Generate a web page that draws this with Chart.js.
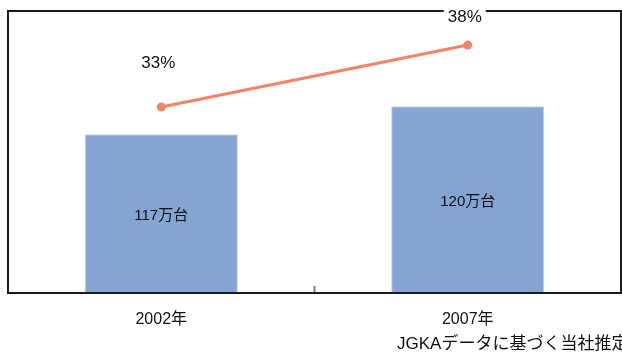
<!DOCTYPE html>
<html>
<head>
<meta charset="utf-8">
<script src="https://cdn.jsdelivr.net/npm/chart.js@4/dist/chart.umd.min.js"></script>
<style>
  html, body { margin: 0; padding: 0; background: #ffffff; }
  #wrap { width: 622px; height: 352px; }
</style>
</head>
<body>
<div id="wrap"><canvas id="c" width="622" height="352"></canvas></div>
<script>
// Categories and series
const years = ['2002年', '2007年'];
const units = [117, 120];            // 万台
const unitLabels = ['117万台', '120万台'];
const shares = [33, 38];             // %
const shareLabels = ['33%', '38%'];
const sourceNote = 'JGKAデータに基づく当社推定';

const FONT = "'Liberation Sans', Arial, 'Noto Sans CJK JP', sans-serif";

// Frame around the plot area, the inner category tick, value labels and the note
const decorations = {
  id: 'decorations',
  afterDatasetsDraw(chart, args, opts) {
    const { ctx, chartArea: a } = chart;
    const xs = chart.scales.x;
    const yu = chart.scales.yUnits;
    ctx.save();

    // inner tick between the two categories
    const mid = (xs.getPixelForValue(0) + xs.getPixelForValue(1)) / 2;
    ctx.strokeStyle = '#7a7a7a';
    ctx.lineWidth = 2;
    ctx.beginPath();
    ctx.moveTo(mid, a.bottom - 7);
    ctx.lineTo(mid, a.bottom);
    ctx.stroke();

    // plot frame
    ctx.strokeStyle = '#1c1c1c';
    ctx.lineWidth = 2;
    ctx.strokeRect(a.left, a.top, a.right - a.left, a.bottom - a.top);

    // bar value labels, centred in each bar
    ctx.fillStyle = '#111111';
    ctx.textAlign = 'center';
    ctx.textBaseline = 'middle';
    ctx.font = '15px ' + FONT;
    units.forEach((v, i) => {
      const x = xs.getPixelForValue(i);
      const top = yu.getPixelForValue(v);
      ctx.fillText(unitLabels[i], x, (top + a.bottom) / 2 + 2);
    });

    // share labels above each point, on a white patch
    ctx.font = '17px ' + FONT;
    chart.getDatasetMeta(0).data.forEach((pt, i) => {
      const x = pt.x - 3;
      const y = pt.y - opts.lift[i];
      const w = ctx.measureText(shareLabels[i]).width;
      ctx.fillStyle = '#ffffff';
      ctx.fillRect(x - w / 2 - 4, y - 10, w + 8, 20);
      ctx.fillStyle = '#111111';
      ctx.fillText(shareLabels[i], x, y);
    });

    // source note
    ctx.textAlign = 'left';
    ctx.textBaseline = 'alphabetic';
    ctx.font = '17px ' + FONT;
    ctx.fillText(sourceNote, 397, 349);
    ctx.restore();
  }
};

new Chart(document.getElementById('c'), {
  data: {
    labels: years,
    datasets: [
      {
        type: 'line',
        data: shares,
        yAxisID: 'yShare',
        borderColor: '#f4836a',
        backgroundColor: '#f4836a',
        borderWidth: 3,
        pointRadius: 4.5,
        pointHoverRadius: 4.5,
        pointBorderWidth: 0,
        order: 0
      },
      {
        type: 'bar',
        data: units,
        yAxisID: 'yUnits',
        backgroundColor: '#84a5d1',
        borderColor: '#c9d7ec',
        borderWidth: 1,
        barPercentage: 0.5,
        categoryPercentage: 1.0,
        order: 1
      }
    ]
  },
  options: {
    responsive: false,
    animation: false,
    events: [],
    layout: { autoPadding: false, padding: { left: 8, top: 11, right: 1, bottom: 0 } },
    plugins: {
      legend: { display: false },
      tooltip: { enabled: false },
      decorations: { lift: [44, 28] }
    },
    scales: {
      x: {
        offset: true,
        grid: { display: false, drawTicks: false },
        border: { display: false },
        ticks: {
          padding: 17,
          color: '#111111',
          font: { family: FONT, size: 16 }
        },
        afterFit(scale) {
          scale.height = 59;
          scale.paddingLeft = 0;
          scale.paddingRight = 0;
        }
      },
      yUnits: {
        display: false,
        min: 100,
        max: 130.2
      },
      yShare: {
        display: false,
        min: 18,
        max: 40.75
      }
    }
  },
  plugins: [decorations]
});
</script>
</body>
</html>
